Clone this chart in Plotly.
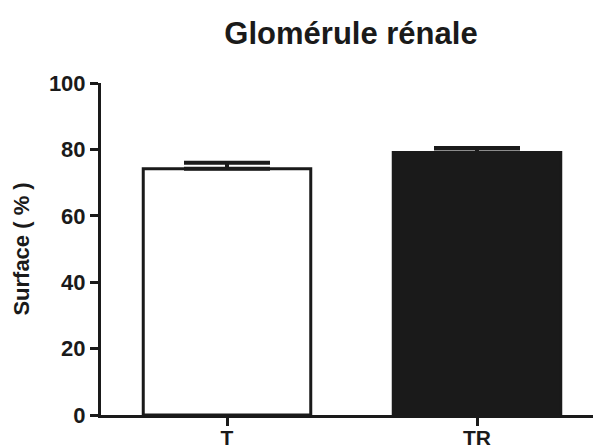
import plotly.graph_objects as go

categories = ["T", "TR"]
values = [74.2, 79.1]
errors = [1.8, 1.3]
fill_colors = ["white", "#1a1a1a"]
y_ticks = [0, 20, 40, 60, 80, 100]

FONT = "Arial, Liberation Sans, sans-serif"
INK = "#1a1a1a"

fig = go.Figure()
fig.add_trace(go.Bar(
    x=categories, y=values,
    width=0.67,
    marker=dict(color=fill_colors, line=dict(color=INK, width=3)),
    error_y=dict(type="data", symmetric=False, array=errors, arrayminus=[0, 0],
                 color=INK, thickness=4, width=43),
    showlegend=False,
))

fig.update_layout(
    width=593, height=448,
    margin=dict(l=101, r=0, t=83, b=33),
    paper_bgcolor="white", plot_bgcolor="white",
    title=dict(text="Glomérule rénale", x=351 / 593, xref="container", xanchor="center",
               y=1 - 33 / 448, yref="container", yanchor="middle",
               font=dict(family=FONT, size=31, color=INK, weight="bold")),
    font=dict(family=FONT, color=INK),
    xaxis=dict(range=[-0.504, 1.464], showline=True, linecolor=INK, linewidth=3,
               ticks="outside", ticklen=8, tickwidth=3, tickcolor=INK,
               showgrid=False, zeroline=False, ticklabelstandoff=-6, automargin=False,
               tickfont=dict(family=FONT, size=21, color=INK, weight="bold")),
    yaxis=dict(range=[0, 100], tickvals=y_ticks, showline=True, linecolor=INK, linewidth=3,
               ticks="outside", ticklen=8, tickwidth=3, tickcolor=INK,
               showgrid=False, zeroline=False, automargin=False,
               tickfont=dict(family=FONT, size=22, color=INK, weight="bold"),
               title=dict(text="Surface ( % )",
                          font=dict(family=FONT, size=22, color=INK, weight="bold"),
                          standoff=14)),
)

fig.write_html("out.html")
